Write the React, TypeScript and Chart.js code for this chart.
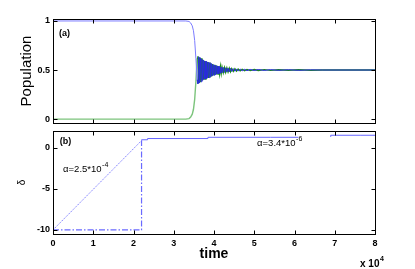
import React, { useEffect, useRef } from "react";
import { Chart, registerables } from "chart.js";

Chart.register(...registerables);

const FONT = "'Liberation Sans', Arial, Helvetica, sans-serif";

// ---- data ----
const timeTicks = [0, 1, 2, 3, 4, 5, 6, 7, 8];
const popTicks = [0, 0.5, 1];
const deltaTicks = [-10, -5, 0];

const popTime = [
  0, 3.3, 3.38, 3.42, 3.46, 3.49, 3.52, 3.55, 3.58, 3.6, 3.62, 3.64, 3.66, 3.68, 3.7, 3.72, 3.74,
  3.76, 3.78, 3.8, 3.82, 3.84, 3.86, 3.88, 3.9, 3.92, 3.94, 3.96, 3.98, 4.0, 4.02, 4.04, 4.06,
  4.08, 4.1, 4.12, 4.14, 4.16, 4.18, 4.2, 4.23, 4.26, 4.29, 4.32, 4.35, 4.38, 4.41, 4.44, 4.48,
  4.52, 4.56, 4.6, 4.65, 4.7, 4.76, 4.82, 4.9, 5.0, 5.1, 5.25, 5.4, 5.6, 5.85, 6.1, 6.4, 6.7, 8.0,
];
const popBlue = [
  1.0, 1.0, 0.995, 0.98, 0.95, 0.9, 0.8, 0.62, 0.4, 0.36, 0.635, 0.37, 0.625, 0.38, 0.61, 0.395, 0.6,
  0.405, 0.592, 0.41, 0.585, 0.418, 0.58, 0.423, 0.575, 0.432, 0.565, 0.44, 0.556, 0.447, 0.55, 0.453, 0.545,
  0.458, 0.54, 0.463, 0.535, 0.467, 0.531, 0.471, 0.527, 0.475, 0.523, 0.479, 0.52, 0.482, 0.517, 0.485, 0.514,
  0.488, 0.511, 0.49, 0.509, 0.492, 0.507, 0.494, 0.506, 0.495, 0.505, 0.496, 0.504, 0.497, 0.503, 0.497, 0.502, 0.5, 0.5,
];
const popGreen = [
  0.0, 0.0, 0.005, 0.02, 0.05, 0.1, 0.2, 0.38, 0.62, 0.64, 0.365, 0.63, 0.375, 0.62, 0.39, 0.605, 0.4,
  0.595, 0.408, 0.59, 0.415, 0.582, 0.42, 0.577, 0.425, 0.568, 0.435, 0.56, 0.444, 0.553, 0.45, 0.547, 0.455,
  0.542, 0.46, 0.537, 0.465, 0.533, 0.469, 0.529, 0.473, 0.525, 0.477, 0.521, 0.48, 0.518, 0.483, 0.515, 0.486,
  0.512, 0.489, 0.51, 0.491, 0.508, 0.493, 0.506, 0.494, 0.505, 0.495, 0.504, 0.496, 0.503, 0.497, 0.503, 0.498, 0.5, 0.5,
];

const rampTime = [0, 2.2];
const rampDelta = [-10, 0.9];
const guideTime = [0, 2.2, 2.2];
const guideDelta = [-10, -10, 0.9];
const stepTime = [2.2, 2.35, 3.85, 5.4, 6.1, 6.1, 6.9, 7.65, 8];
const stepDelta: (number | null)[] = [0.9, 1.0, 1.15, 1.3, 1.3, null, 1.35, 1.55, 1.55];

const pts = (xs: number[], ys: (number | null)[]) => xs.map((x, i) => ({ x, y: ys[i] }));

type Note = { text: string; sup?: string; x: number; y: number; font: string; baseline?: CanvasTextBaseline };

const framePlugin = {
  id: "frame",
  afterDatasetsDraw(chart: any, _args: any, opts: any) {
    const { ctx, chartArea: a, scales } = chart;
    ctx.save();
    ctx.setLineDash([]);
    ctx.strokeStyle = "#000";
    ctx.lineWidth = 1;
    const l = Math.round(a.left) + 0.5;
    const t = Math.round(a.top) + 0.5;
    const r = Math.round(a.right) + 0.5;
    const b = Math.round(a.bottom) + 0.5;
    ctx.strokeRect(l, t, r - l, b - t);
    const L = 4;
    ctx.beginPath();
    for (const tk of scales.x.ticks) {
      const px = Math.round(scales.x.getPixelForValue(tk.value)) + 0.5;
      ctx.moveTo(px, b);
      ctx.lineTo(px, b - L);
      ctx.moveTo(px, t);
      ctx.lineTo(px, t + L);
    }
    for (const tk of scales.y.ticks) {
      const py = Math.round(scales.y.getPixelForValue(tk.value)) + 0.5;
      ctx.moveTo(l, py);
      ctx.lineTo(l + L, py);
      ctx.moveTo(r, py);
      ctx.lineTo(r - L, py);
    }
    ctx.stroke();
    ctx.fillStyle = "#000";
    const notes: Note[] = (opts && opts.notes) || [];
    for (const n of notes) {
      const px = scales.x.getPixelForValue(n.x);
      const py = scales.y.getPixelForValue(n.y);
      ctx.font = n.font;
      ctx.textBaseline = n.baseline || "alphabetic";
      ctx.textAlign = "left";
      ctx.fillText(n.text, px, py);
      if (n.sup) {
        const w = ctx.measureText(n.text).width;
        ctx.font = "7px " + FONT;
        ctx.fillText(n.sup, px + w + 0.5, py - 5);
      }
    }
    const extra: Note[] = (opts && opts.pixelNotes) || [];
    for (const n of extra) {
      ctx.font = n.font;
      ctx.textBaseline = "alphabetic";
      ctx.textAlign = "left";
      const px = a.right + n.x;
      const py = a.bottom + n.y;
      ctx.fillText(n.text, px, py);
      if (n.sup) {
        const w = ctx.measureText(n.text).width;
        ctx.font = "bold 7px " + FONT;
        ctx.fillText(n.sup, px + w + 0.5, py - 6);
      }
    }
    ctx.restore();
  },
};

const tickFont = { family: FONT, size: 9, weight: "bold" as const };

export default function App() {
  const topRef = useRef<HTMLCanvasElement>(null);
  const botRef = useRef<HTMLCanvasElement>(null);

  useEffect(() => {
    const top = new Chart(topRef.current!, {
      type: "line",
      data: {
        datasets: [
          {
            data: pts(popTime, popBlue),
            borderColor: "#2a2ae0",
            borderWidth: 1,
            pointRadius: 0,
            segment: { borderColor: (c: any) => (c.p0.parsed.x < 3.57 ? "#7b7bff" : "#2a2ae0") },
          },
          {
            data: pts(popTime, popGreen),
            borderColor: "#008000",
            borderWidth: 1.4,
            pointRadius: 0,
            segment: { borderColor: (c: any) => (c.p0.parsed.x < 3.57 ? "#7cc47c" : "#1a8a1a") },
          },
        ],
      },
      options: {
        animation: false,
        responsive: false,
        maintainAspectRatio: false,
        layout: { padding: { left: 0, right: 40, top: 19, bottom: 146 } },
        plugins: {
          legend: { display: false },
          tooltip: { enabled: false },
          frame: {
            notes: [{ text: "(a)", x: 0.15, y: 0.87, font: "bold 9px " + FONT, baseline: "middle" }],
          },
        } as any,
        scales: {
          x: {
            type: "linear",
            min: 0,
            max: 8,
            afterFit: (s: any) => {
              s.height = 0;
            },
            afterBuildTicks: (s: any) => {
              s.ticks = timeTicks.map((v) => ({ value: v }));
            },
            ticks: { display: false },
            grid: { display: false, drawTicks: false },
            border: { display: false },
          },
          y: {
            type: "linear",
            min: -0.04,
            max: 1.02,
            afterFit: (s: any) => {
              s.width = 53;
            },
            afterBuildTicks: (s: any) => {
              s.ticks = popTicks.map((v) => ({ value: v }));
            },
            ticks: { font: tickFont, color: "#000", padding: 3, callback: (v: any) => String(v) },
            grid: { display: false, drawTicks: false },
            border: { display: false },
            title: {
              display: true,
              text: "Population",
              color: "#000",
              font: { family: FONT, size: 15 },
              padding: { top: 18, bottom: 0 },
            },
          },
        },
      },
      plugins: [framePlugin],
    });

    const bot = new Chart(botRef.current!, {
      type: "line",
      data: {
        datasets: [
          {
            data: pts(rampTime, rampDelta),
            borderColor: "#8080ff",
            borderWidth: 1,
            borderDash: [1.5, 1],
            pointRadius: 0,
          },
          {
            data: pts(guideTime, guideDelta),
            borderColor: "#6a6aff",
            borderWidth: 1.2,
            borderDash: [6, 2, 1.5, 2],
            pointRadius: 0,
          },
          {
            data: pts(stepTime, stepDelta),
            borderColor: "#6464ff",
            borderWidth: 1,
            stepped: "after",
            spanGaps: false,
            pointRadius: 0,
          },
        ],
      },
      options: {
        animation: false,
        responsive: false,
        maintainAspectRatio: false,
        layout: { padding: { left: 0, right: 40, top: 131, bottom: 0 } },
        plugins: {
          legend: { display: false },
          tooltip: { enabled: false },
          frame: {
            notes: [
              { text: "(b)", x: 0.17, y: 0.73, font: "bold 9px " + FONT, baseline: "middle" },
              { text: "α=2.5*10", sup: "-4", x: 0.25, y: -2.9, font: "9.5px " + FONT },
              { text: "α=3.4*10", sup: "-6", x: 5.07, y: 0.24, font: "9.5px " + FONT },
            ],
            pixelNotes: [{ text: "x 10", sup: "4", x: -15, y: 33, font: "bold 10px " + FONT }],
          },
        } as any,
        scales: {
          x: {
            type: "linear",
            min: 0,
            max: 8,
            afterFit: (s: any) => {
              s.height = 35;
            },
            afterBuildTicks: (s: any) => {
              s.ticks = timeTicks.map((v) => ({ value: v }));
            },
            ticks: { font: tickFont, color: "#000", padding: 4, maxRotation: 0, callback: (v: any) => String(v) },
            grid: { display: false, drawTicks: false },
            border: { display: false },
            title: {
              display: true,
              text: "time",
              color: "#000",
              font: { family: FONT, size: 14, weight: "bold" },
              padding: { top: 0, bottom: 6 },
            },
          },
          y: {
            type: "linear",
            min: -10.5,
            max: 2.07,
            afterFit: (s: any) => {
              s.width = 53;
            },
            afterBuildTicks: (s: any) => {
              s.ticks = deltaTicks.map((v) => ({ value: v }));
            },
            ticks: { font: tickFont, color: "#000", padding: 3, callback: (v: any) => String(v) },
            grid: { display: false, drawTicks: false },
            border: { display: false },
            title: {
              display: true,
              text: "δ",
              color: "#000",
              font: { family: FONT, size: 10 },
              padding: { top: 16, bottom: 0 },
            },
          },
        },
      },
      plugins: [framePlugin],
    });

    return () => {
      top.destroy();
      bot.destroy();
    };
  }, []);

  const cs: React.CSSProperties = { position: "absolute", left: 0, top: 0, width: 415, height: 269 };
  return (
    <div style={{ position: "absolute", left: 0, top: 0, width: 415, height: 269, background: "#fff" }}>
      <canvas ref={topRef} width={415} height={269} style={cs} />
      <canvas ref={botRef} width={415} height={269} style={cs} />
    </div>
  );
}
